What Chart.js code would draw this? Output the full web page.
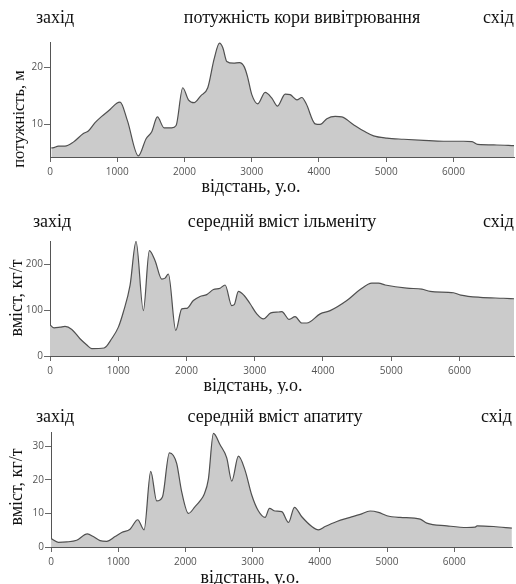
<!DOCTYPE html>
<html>
<head>
<meta charset="utf-8">
<script src="https://cdn.jsdelivr.net/npm/chart.js@4"></script>
<style>
  body { margin: 0; background: #fff; overflow: hidden; }
  canvas { position: absolute; left: 0; }
</style>
</head>
<body>
<canvas id="c1" width="516" height="198" style="top:0px"></canvas>
<canvas id="c2" width="516" height="196" style="top:198px"></canvas>
<canvas id="c3" width="516" height="196" style="top:394px"></canvas>
<script>
// відстань, у.о. / потужність кори вивітрювання, м
var thicknessDist = [20, 40, 124, 223, 347, 496, 570, 670, 769, 893, 992, 1042, 1150, 1314, 1429, 1513, 1597, 1696, 1810, 1875, 1974, 2058, 2143, 2242, 2346, 2440, 2520, 2570, 2629, 2728, 2817, 2887, 2936, 3001, 3090, 3199, 3299, 3383, 3497, 3571, 3671, 3745, 3810, 3943, 4018, 4117, 4241, 4340, 4514, 4688, 4812, 5010, 5258, 5556, 5853, 6151, 6275, 6359, 6647, 6900];
var thicknessVal = [5.9, 5.9, 6.2, 6.2, 6.9, 8.4, 8.85, 10.3, 11.4, 12.6, 13.7, 13.9, 10.7, 4.5, 7.5, 8.7, 11.3, 9.4, 9.4, 9.8, 16.4, 14.3, 13.8, 15.0, 16.4, 21.4, 24.2, 23.4, 21.0, 20.7, 20.8, 20.1, 18.4, 15.2, 13.6, 15.6, 14.6, 13.2, 15.3, 15.2, 14.3, 14.7, 13.6, 10.1, 10.0, 11.0, 11.4, 11.3, 9.95, 8.7, 8.0, 7.6, 7.4, 7.2, 7.05, 7.05, 7.0, 6.5, 6.4, 6.3];

// середній вміст ільменіту, кг/т
var ilmeniteDist = [0, 59, 150, 220, 320, 440, 540, 611, 792, 904, 1002, 1075, 1173, 1261, 1368, 1456, 1540, 1637, 1686, 1735, 1843, 1931, 2004, 2101, 2199, 2297, 2395, 2493, 2566, 2664, 2700, 2761, 2845, 2933, 3030, 3128, 3236, 3348, 3397, 3505, 3592, 3690, 3763, 3959, 4106, 4350, 4545, 4717, 4814, 4912, 5230, 5450, 5572, 5913, 6021, 6305, 6647, 6800];
var ilmeniteVal = [68, 61.5, 63, 64.5, 58, 37.6, 24, 16, 17.4, 37.6, 63, 96, 154, 250, 99, 230, 208, 168, 170, 179, 56, 103, 104, 121, 130, 134, 145, 148, 155, 110, 112, 141, 132, 114, 92, 81, 94, 96, 97, 80, 86, 72, 72, 92, 99, 121, 145, 159, 159, 155, 148, 146, 141, 138, 133, 128, 126, 125];

// середній вміст апатиту, кг/т
var apatiteDist = [0, 109, 233, 382, 541, 630, 730, 829, 953, 1052, 1176, 1290, 1385, 1484, 1573, 1658, 1762, 1821, 1871, 1945, 2045, 2144, 2218, 2278, 2342, 2417, 2516, 2615, 2690, 2789, 2888, 2988, 3087, 3186, 3251, 3335, 3434, 3534, 3623, 3732, 3881, 3980, 4079, 4253, 4452, 4601, 4749, 4873, 4998, 5196, 5494, 5593, 5891, 6189, 6313, 6340, 6586, 6858];
var apatiteVal = [2.5, 1.4, 1.5, 2.0, 3.9, 3.1, 1.9, 1.7, 3.1, 4.3, 5.3, 8.1, 5.1, 22.5, 13.7, 14.9, 28.0, 27.2, 24.8, 16.4, 10.0, 12.0, 13.7, 15.6, 20.2, 33.8, 30.4, 26.5, 19.6, 27.0, 22.8, 15.4, 10.7, 8.8, 11.5, 10.7, 10.5, 7.3, 11.8, 9.0, 6.1, 5.1, 6.1, 7.6, 8.8, 9.7, 10.7, 10.3, 9.3, 8.8, 8.3, 7.1, 6.3, 5.8, 5.9, 6.3, 6.1, 5.6];

var distTicks = [0, 1000, 2000, 3000, 4000, 5000, 6000];
var thicknessTicks = [10, 20];
var ilmeniteTicks = [0, 100, 200];
var apatiteTicks = [0, 10, 20, 30];

var westLabel = "захід";
var eastLabel = "схід";
var panelTitles = ["потужність кори вивітрювання", "середній вміст ільменіту", "середній вміст апатиту"];
var yTitles = ["потужність, м", "вміст, кг/т", "вміст, кг/т"];
var xTitle = "відстань, у.о.";

var serif = "'Liberation Serif', 'Times New Roman', serif";

// header (захід / title / схід) and axis titles, placed like in the source figure
var labelsPlugin = {
  id: "labels",
  afterDraw: function (chart, args, o) {
    var ctx = chart.ctx;
    ctx.save();
    ctx.fillStyle = "#111";
    ctx.textBaseline = "middle";
    ctx.font = "18px " + serif;
    ctx.textAlign = "left";
    ctx.fillText(westLabel, o.westX, o.headY);
    ctx.textAlign = "center";
    ctx.fillText(o.title, o.titleX, o.headY);
    ctx.textAlign = "right";
    ctx.fillText(eastLabel, o.eastX, o.headY);

    ctx.textAlign = "center";
    ctx.fillText(xTitle, o.xTitleX, o.xTitleY);

    ctx.font = o.yTitleSize + "px " + serif;
    ctx.translate(o.yTitleX, o.yTitleY);
    ctx.rotate(-Math.PI / 2);
    ctx.fillText(o.yTitle, 0, 0);
    ctx.restore();
  },
};

function toPoints(xs, ys) {
  return xs.map(function (x, i) {
    return { x: x, y: ys[i] };
  });
}

function makePanel(id, xs, ys, p) {
  return new Chart(document.getElementById(id), {
    type: "line",
    plugins: [labelsPlugin],
    data: {
      datasets: [
        {
          data: toPoints(xs, ys),
          borderColor: "#505050",
          borderWidth: 1.2,
          backgroundColor: "#cbcbcb",
          fill: "start",
          pointRadius: 0,
          cubicInterpolationMode: "monotone",
        },
      ],
    },
    options: {
      responsive: false,
      animation: false,
      layout: { padding: { top: p.top, right: p.right, left: 0, bottom: 0 } },
      plugins: {
        legend: { display: false },
        tooltip: { enabled: false },
        labels: p.labels,
      },
      scales: {
        x: {
          type: "linear",
          min: 0,
          max: p.xMax,
          afterFit: function (s) { s.height = p.xHeight; },
          afterBuildTicks: function (s) {
            s.ticks = distTicks.map(function (v) { return { value: v }; });
          },
          grid: { drawOnChartArea: false, tickLength: 5, color: "#666" },
          border: { color: "#555" },
          ticks: {
            padding: 4,
            color: "#555",
            font: { family: "'Open Sans', sans-serif", size: 10 },
            maxRotation: 0,
            callback: function (v) { return String(v); },
          },
        },
        y: {
          min: p.yMin,
          max: p.yMax,
          afterFit: function (s) { s.width = p.yWidth; },
          afterBuildTicks: function (s) {
            s.ticks = p.yTicks.map(function (v) { return { value: v }; });
          },
          grid: { drawOnChartArea: false, tickLength: 6, color: "#666" },
          border: { color: "#555" },
          ticks: {
            padding: 1,
            color: "#555",
            font: { family: "'Open Sans', sans-serif", size: 10 },
            callback: function (v) { return String(v); },
          },
        },
      },
    },
  });
}

makePanel("c1", thicknessDist, thicknessVal, {
  top: 42, right: 2, xMax: 6900, xHeight: 41,
  yMin: 4.3, yMax: 24.4, yTicks: thicknessTicks, yWidth: 50,
  labels: {
    title: panelTitles[0], westX: 36, titleX: 302, eastX: 514, headY: 18,
    xTitleX: 251, xTitleY: 187,
    yTitle: yTitles[0], yTitleSize: 16.5, yTitleX: 20, yTitleY: 119,
  },
});

makePanel("c2", ilmeniteDist, ilmeniteVal, {
  top: 43, right: 2, xMax: 6800, xHeight: 38,
  yMin: 0, yMax: 251, yTicks: ilmeniteTicks, yWidth: 50,
  labels: {
    title: panelTitles[1], westX: 33, titleX: 282, eastX: 514, headY: 24,
    xTitleX: 253, xTitleY: 188,
    yTitle: yTitles[1], yTitleSize: 18, yTitleX: 17, yTitleY: 100,
  },
});

makePanel("c3", apatiteDist, apatiteVal, {
  top: 38, right: 4, xMax: 6860, xHeight: 43,
  yMin: 0, yMax: 34.2, yTicks: apatiteTicks, yWidth: 51,
  labels: {
    title: panelTitles[2], westX: 36, titleX: 275, eastX: 512, headY: 23,
    xTitleX: 250, xTitleY: 184,
    yTitle: yTitles[2], yTitleSize: 18, yTitleX: 17, yTitleY: 93,
  },
});
</script>
</body>
</html>
